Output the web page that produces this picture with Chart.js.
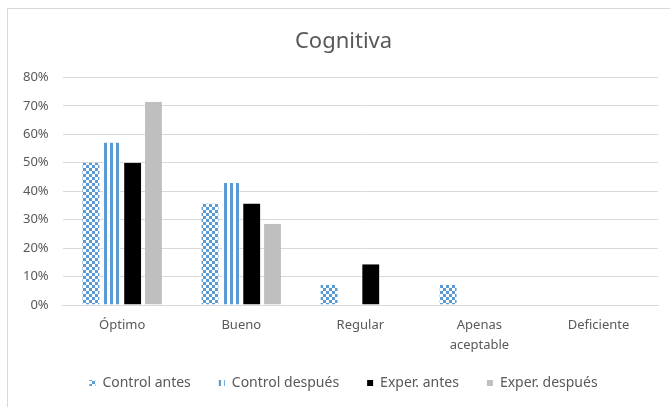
<!DOCTYPE html>
<html>
<head>
<meta charset="utf-8">
<script src="https://cdn.jsdelivr.net/npm/chart.js@4"></script>
<style>
  body { margin: 0; background: #fff; overflow: hidden; }
  .caja {
    position: absolute; left: 7px; top: 8px;
    width: 670px; height: 399px;
    border-left: 1px solid #d9d9d9; border-top: 1px solid #d9d9d9;
  }
</style>
</head>
<body>
<div class="caja"><canvas id="graficoCognitiva" width="670" height="399"></canvas></div>
<script>
// categorias y valores (%)
const categorias = ['Óptimo', 'Bueno', 'Regular', ['Apenas', 'aceptable'], 'Deficiente'];
const controlAntes = [50, 35.7, 7.1, 7.1, 0];
const controlDespues = [57.1, 42.9, 0, 0, 0];
const experAntes = [50, 35.7, 14.3, 0, 0];
const experDespues = [71.4, 28.6, 0, 0, 0];
const ticksY = [0, 10, 20, 30, 40, 50, 60, 70, 80];

const azul = '#5b9bd5';
const gris = '#595959';

// patron cuadriculado
function patronCuadros() {
    const c = document.createElement('canvas');
    c.width = 6; c.height = 6;
    const g = c.getContext('2d');
    g.fillStyle = '#fff';
    g.fillRect(0, 0, 6, 6);
    g.fillStyle = azul;
    g.fillRect(0, 0, 3, 3);
    g.fillRect(3, 3, 3, 3);
    return g.createPattern(c, 'repeat');
}

// patron rayas verticales
function patronRayas() {
    const c = document.createElement('canvas');
    c.width = 6; c.height = 6;
    const g = c.getContext('2d');
    g.fillStyle = '#fff';
    g.fillRect(0, 0, 6, 6);
    g.fillStyle = azul;
    g.fillRect(0, 0, 3, 6);
    return g.createPattern(c, 'repeat');
}

const borde = { left: 2, right: 2, top: 0, bottom: 0 };
const hueco = 'rgba(0,0,0,0)';

const ctx = document.getElementById('graficoCognitiva');
new Chart(ctx, {
    type: 'bar',
    data: {
        labels: categorias,
        datasets: [
            { label: 'Control antes', data: controlAntes, backgroundColor: patronCuadros(), borderColor: hueco, borderWidth: borde, borderSkipped: false },
            { label: 'Control después', data: controlDespues, backgroundColor: patronRayas(), borderColor: hueco, borderWidth: borde, borderSkipped: false },
            { label: 'Exper. antes', data: experAntes, backgroundColor: '#000000', borderColor: hueco, borderWidth: borde, borderSkipped: false },
            { label: 'Exper. después', data: experDespues, backgroundColor: '#bfbfbf', borderColor: hueco, borderWidth: borde, borderSkipped: false }
        ]
    },
    options: {
        responsive: false,
        animation: false,
        layout: { padding: { left: 1, right: 0, top: 8, bottom: 8 } },
        datasets: { bar: { categoryPercentage: 0.7, barPercentage: 1 } },
        plugins: {
            title: {
                display: true,
                text: 'Cognitiva',
                color: gris,
                font: { family: 'Noto Sans', size: 22, weight: 'normal' },
                padding: { top: 12, bottom: 22 }
            },
            legend: {
                position: 'bottom',
                labels: {
                    color: gris,
                    font: { family: 'Noto Sans', size: 14 },
                    boxWidth: 6,
                    boxHeight: 6,
                    padding: 28
                }
            },
            tooltip: { enabled: false }
        },
        scales: {
            x: {
                grid: { display: false },
                border: { color: '#d9d9d9' },
                ticks: { color: gris, font: { family: 'Noto Sans', size: 13, lineHeight: 1.5 }, maxRotation: 0, padding: 3 },
                afterFit: (eje) => {
                    eje.height -= 10;
                    // sin recorte de etiquetas
                    eje._computeLabelArea = () => null;
                }
            },
            y: {
                min: 0,
                max: 80,
                afterBuildTicks: (eje) => { eje.ticks = ticksY.map(v => ({ value: v })); },
                grid: { color: '#d9d9d9', drawTicks: false },
                border: { display: false },
                ticks: {
                    color: gris,
                    font: { family: 'Noto Sans', size: 13 },
                    padding: 14,
                    callback: (v) => v + '%'
                }
            },
            // margen derecho vacio
            derecha: {
                position: 'right',
                grid: { display: false },
                border: { display: false },
                ticks: { display: false },
                afterFit: (eje) => { eje.width = 20; }
            }
        }
    }
});
</script>
</body>
</html>
